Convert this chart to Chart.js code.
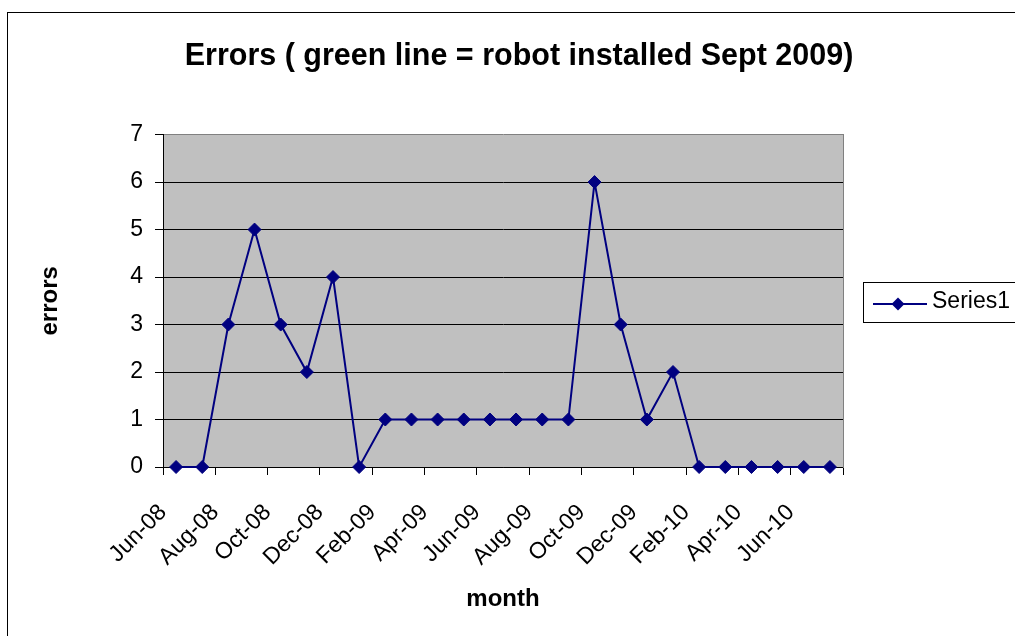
<!DOCTYPE html>
<html>
<head>
<meta charset="utf-8">
<script src="https://cdn.jsdelivr.net/npm/chart.js@4.4.1/dist/chart.umd.min.js"></script>
<style>
  html, body { margin: 0; padding: 0; background: #ffffff; }
  #wrap { width: 1015px; height: 636px; position: relative; }
</style>
</head>
<body>
<div id="wrap"><canvas id="c" width="1015" height="636"></canvas></div>
<script>
// ---- data ----
const months = ['Jun-08','Jul-08','Aug-08','Sep-08','Oct-08','Nov-08','Dec-08','Jan-09','Feb-09','Mar-09','Apr-09','May-09','Jun-09','Jul-09','Aug-09','Sep-09','Oct-09','Nov-09','Dec-09','Jan-10','Feb-10','Mar-10','Apr-10','May-10','Jun-10','Jul-10'];
const errors = [0,0,3,5,3,2,4,0,1,1,1,1,1,1,1,1,6,3,1,2,0,0,0,0,0,0];
const xTickLabels = ['Jun-08','Aug-08','Oct-08','Dec-08','Feb-09','Apr-09','Jun-09','Aug-09','Oct-09','Dec-09','Feb-10','Apr-10','Jun-10',''];
const yTickValues = [0,1,2,3,4,5,6,7];
const seriesName = 'Series1';
const chartTitle = 'Errors ( green line = robot installed Sept 2009)';
const xTitle = 'month';
const yTitle = 'errors';

const points = errors.map((v, i) => ({ x: i + 0.5, y: v }));

Chart.defaults.font.family = "'Liberation Sans', Arial, sans-serif";
Chart.defaults.color = '#000000';

const NAVY = '#000080';

const framePlugin = {
  id: 'frame',
  beforeDraw(chart) {
    const ctx = chart.ctx, a = chart.chartArea;
    ctx.save();
    ctx.fillStyle = '#ffffff';
    ctx.fillRect(0, 0, chart.width, chart.height);
    ctx.strokeStyle = '#000000';
    ctx.lineWidth = 1;
    ctx.strokeRect(7.5, 12.5, chart.width + 20, chart.height + 20);
    ctx.fillStyle = '#C0C0C0';
    ctx.fillRect(a.left, a.top, a.right - a.left, a.bottom - a.top);
    ctx.restore();
  },
  afterDraw(chart) {
    const ctx = chart.ctx, a = chart.chartArea;
    const ds = chart.data.datasets[0];
    const bx = a.right + 20, cy = Math.round((a.top + a.bottom) / 2) + 1;
    ctx.save();
    ctx.strokeStyle = '#000000';
    ctx.lineWidth = 1;
    ctx.strokeRect(bx + 0.5, cy - 20 + 0.5, 200, 40);
    ctx.strokeStyle = ds.borderColor;
    ctx.lineWidth = 2;
    ctx.beginPath();
    ctx.moveTo(bx + 10, cy + 2);
    ctx.lineTo(bx + 64, cy + 2);
    ctx.stroke();
    ctx.fillStyle = ds.borderColor;
    ctx.beginPath();
    ctx.moveTo(bx + 35, cy + 2 - 6.5);
    ctx.lineTo(bx + 41.5, cy + 2);
    ctx.lineTo(bx + 35, cy + 2 + 6.5);
    ctx.lineTo(bx + 28.5, cy + 2);
    ctx.closePath();
    ctx.fill();
    ctx.fillStyle = '#000000';
    ctx.font = "23px 'Liberation Sans', Arial, sans-serif";
    ctx.textBaseline = 'middle';
    ctx.textAlign = 'left';
    ctx.fillText(ds.label, bx + 69, cy);
    ctx.restore();
  }
};

new Chart(document.getElementById('c'), {
  type: 'line',
  data: {
    datasets: [{
      label: seriesName,
      data: points,
      borderColor: NAVY,
      backgroundColor: NAVY,
      borderWidth: 2,
      tension: 0,
      pointStyle: 'rectRot',
      pointRadius: 6.5,
      pointBorderWidth: 1,
      pointBackgroundColor: NAVY,
      pointBorderColor: NAVY,
      clip: false
    }]
  },
  options: {
    responsive: false,
    animation: false,
    events: [],
    layout: { padding: { left: 23, top: 0, right: 0, bottom: 0 } },
    plugins: {
      legend: { display: false },
      tooltip: { enabled: false },
      title: {
        display: true,
        text: chartTitle,
        color: '#000000',
        font: { size: 30.5, weight: 'bold' },
        padding: { top: 38, bottom: 60 }
      }
    },
    scales: {
      x: {
        type: 'linear',
        min: 0,
        max: 26,
        ticks: {
          stepSize: 2,
          autoSkip: false,
          minRotation: 45,
          maxRotation: 45,
          padding: 24,
          font: { size: 23 },
          color: '#000000',
          callback: (v) => xTickLabels[v / 2] ?? ''
        },
        grid: { drawOnChartArea: false, drawTicks: true, tickLength: 8, color: '#000000' },
        border: { display: true, color: '#000000', width: 1 },
        title: { display: true, text: xTitle, font: { size: 24, weight: 'bold' }, color: '#000000', padding: { top: 0, bottom: 22 } },
        afterFit: (s) => { s.height = 169; }
      },
      y: {
        type: 'linear',
        min: 0,
        max: 7,
        afterBuildTicks: (s) => { s.ticks = yTickValues.map(v => ({ value: v })); },
        ticks: { stepSize: 1, padding: 12, font: { size: 23 }, color: '#000000' },
        grid: {
          color: (c) => (c.tick && c.tick.value === 7 ? '#808080' : '#000000'),
          tickColor: '#000000',
          tickLength: 8,
          lineWidth: 1
        },
        border: { display: true, color: '#000000', width: 1 },
        title: { display: true, text: yTitle, font: { size: 24, weight: 'bold' }, color: '#000000', padding: { top: 13, bottom: 0 } },
        afterFit: (s) => { s.width = 140; }
      },
      yr: {
        type: 'linear',
        position: 'right',
        display: true,
        ticks: { display: false },
        grid: { drawOnChartArea: false, drawTicks: false },
        border: { display: true, color: '#808080', width: 1 },
        afterFit: (s) => { s.width = 172; }
      }
    }
  },
  plugins: [framePlugin]
});
</script>
</body>
</html>
